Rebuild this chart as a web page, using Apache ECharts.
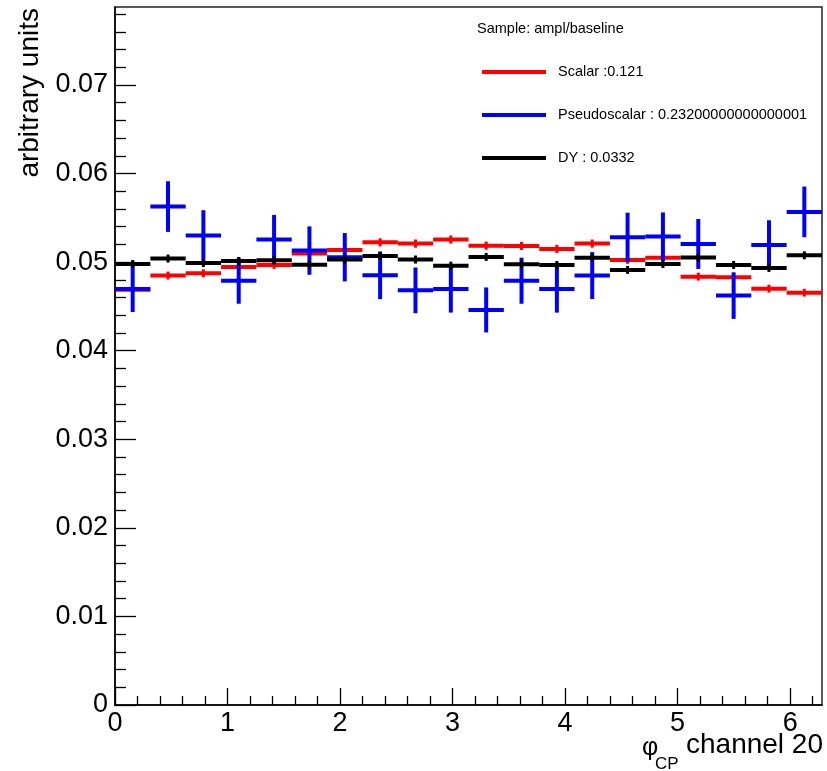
<!DOCTYPE html>
<html>
<head>
<meta charset="utf-8">
<script src="https://cdn.jsdelivr.net/npm/echarts@6/dist/echarts.min.js"></script>
<style>
html,body{margin:0;padding:0;background:#fff;}
#chart{width:827px;height:771px;}
</style>
</head>
<body>
<div id="chart"></div>
<script>
// ---- data ----
const X_MIN = 0;
const X_MAX = 2 * Math.PI;
const N_BINS = 20;
const Y_MAX = 0.0788;

const xMajorTicks = [0, 1, 2, 3, 4, 5, 6];
const xMinorTicks = [0.2,0.4,0.6,0.8,1.2,1.4,1.6,1.8,2.2,2.4,2.6,2.8,3.2,3.4,3.6,3.8,4.2,4.4,4.6,4.8,5.2,5.4,5.6,5.8,6.2];
const yMajorTicks = [0, 0.01, 0.02, 0.03, 0.04, 0.05, 0.06, 0.07];
const yMinorTicks = [0.002,0.004,0.006,0.008,0.012,0.014,0.016,0.018,0.022,0.024,0.026,0.028,0.032,0.034,0.036,0.038,0.042,0.044,0.046,0.048,0.052,0.054,0.056,0.058,0.062,0.064,0.066,0.068,0.072,0.074,0.076,0.078];

const scalarName = 'Scalar :0.121';
const pseudoName = 'Pseudoscalar : 0.23200000000000001';
const dyName = 'DY : 0.0332';
const sampleLabel = 'Sample: ampl/baseline';

const scalarValues = [0.04689,0.04848,0.04874,0.04946,0.04968,0.05096,0.05138,0.05223,0.05209,0.05255,0.05186,0.05183,0.05149,0.05209,0.05025,0.05048,0.04836,0.04828,0.04700,0.04655];
const scalarErrors = [0.00044,0.00045,0.00045,0.00045,0.00045,0.00046,0.00046,0.00046,0.00046,0.00046,0.00046,0.00046,0.00046,0.00046,0.00045,0.00045,0.00045,0.00045,0.00044,0.00044];

const pseudoValues = [0.04697,0.05627,0.05300,0.04790,0.05255,0.05130,0.05055,0.04851,0.04681,0.04697,0.04460,0.04790,0.04697,0.04848,0.05281,0.05288,0.05205,0.04622,0.05194,0.05567];
const pseudoErrors = [0.00260,0.00286,0.00286,0.00260,0.00278,0.00273,0.00273,0.00269,0.00258,0.00267,0.00254,0.00260,0.00267,0.00265,0.00277,0.00273,0.00282,0.00263,0.00278,0.00286];

const dyValues = [0.04979,0.05040,0.04990,0.05013,0.05020,0.04971,0.05029,0.05070,0.05029,0.04960,0.05059,0.04975,0.04968,0.05048,0.04912,0.04979,0.05051,0.04968,0.04934,0.05077];
const dyErrors = [0.00045,0.00045,0.00045,0.00045,0.00045,0.00045,0.00045,0.00045,0.00045,0.00045,0.00045,0.00045,0.00045,0.00045,0.00045,0.00045,0.00045,0.00045,0.00045,0.00045];

// ---- build ----
const FONT = "'Liberation Sans', Arial, Helvetica, sans-serif";
const binWidth = (X_MAX - X_MIN) / N_BINS;

function histData(values, errors) {
  return values.map((v, i) => [X_MIN + i * binWidth, X_MIN + (i + 1) * binWidth, v, errors[i]]);
}

function makeRender(color, lw, elw) {
  return function (params, api) {
    const lo = api.value(0), hi = api.value(1), v = api.value(2), e = api.value(3);
    const p1 = api.coord([lo, v]);
    const p2 = api.coord([hi, v]);
    const c = (lo + hi) / 2;
    const t = api.coord([c, v + e]);
    const b = api.coord([c, v - e]);
    return {
      type: 'group',
      children: [
        { type: 'line', shape: { x1: p1[0], y1: p1[1], x2: p2[0], y2: p2[1] }, style: { stroke: color, lineWidth: lw } },
        { type: 'line', shape: { x1: t[0], y1: t[1], x2: b[0], y2: b[1] }, style: { stroke: color, lineWidth: elw } }
      ]
    };
  };
}

function histSeries(name, values, errors, color, lw, elw) {
  return {
    name: name,
    type: 'custom',
    xAxisIndex: 0,
    yAxisIndex: 0,
    renderItem: makeRender(color, lw, elw),
    itemStyle: { color: color },
    encode: { x: [0, 1], y: [2, 3] },
    data: histData(values, errors),
    animation: false
  };
}

const chart = echarts.init(document.getElementById('chart'), null, { renderer: 'canvas' });

const axisLineStyle = { color: '#000', width: 1.5 };

const option = {
  backgroundColor: '#fff',
  animation: false,
  grid: {
    left: 115, top: 7, right: 5, bottom: 66,
    show: true, borderColor: '#222', borderWidth: 1.5, backgroundColor: 'transparent'
  },
  xAxis: [
    {
      type: 'value', min: X_MIN, max: X_MAX, position: 'bottom',
      splitLine: { show: false },
      axisLine: { show: true, lineStyle: axisLineStyle },
      axisTick: { show: true, inside: true, length: 17, lineStyle: { color: '#000', width: 1.3 }, customValues: xMajorTicks },
      axisLabel: { show: true, customValues: xMajorTicks, margin: 5, fontSize: 27, fontFamily: FONT, color: '#000' }
    },
    {
      type: 'value', min: X_MIN, max: X_MAX, position: 'bottom', offset: 0,
      splitLine: { show: false },
      axisLine: { show: false },
      axisTick: { show: true, inside: true, length: 9, lineStyle: { color: '#000', width: 1.3 }, customValues: xMinorTicks },
      axisLabel: { show: false }
    }
  ],
  yAxis: [
    {
      type: 'value', min: 0, max: Y_MAX, position: 'left',
      splitLine: { show: false },
      axisLine: { show: true, lineStyle: axisLineStyle },
      axisTick: { show: true, inside: true, length: 21, lineStyle: { color: '#000', width: 1.3 }, customValues: yMajorTicks },
      axisLabel: { show: true, customValues: yMajorTicks, margin: 7, fontSize: 27, fontFamily: FONT, color: '#000',
        formatter: function (v) { return String(v); } }
    },
    {
      type: 'value', min: 0, max: Y_MAX, position: 'left', offset: 0,
      splitLine: { show: false },
      axisLine: { show: false },
      axisTick: { show: true, inside: true, length: 11, lineStyle: { color: '#000', width: 1.3 }, customValues: yMinorTicks },
      axisLabel: { show: false }
    }
  ],
  legend: {
    left: 482, top: 64, orient: 'vertical', padding: 0,
    itemWidth: 64, itemHeight: 4, itemGap: 27,
    icon: 'rect', selectedMode: false,
    textStyle: { fontSize: 14.5, fontFamily: FONT, color: '#000', lineHeight: 16, padding: [0, 0, 0, 7] },
    data: [scalarName, pseudoName, dyName]
  },
  graphic: [
    { type: 'text', left: 477, top: 21, style: { text: sampleLabel, fontSize: 14.5, fontFamily: FONT, fill: '#000' } },
    { type: 'text', x: 30, y: 8, rotation: Math.PI / 2,
      style: { text: 'arbitrary units', fontSize: 28, fontFamily: FONT, fill: '#000', align: 'right', verticalAlign: 'middle' } },
    { type: 'text', x: 823, y: 745,
      style: { text: 'channel 20', fontSize: 28, fontFamily: FONT, fill: '#000', align: 'right', verticalAlign: 'middle' } },
    { type: 'text', x: 642, y: 748,
      style: { text: 'φ', fontSize: 25, fontFamily: FONT, fill: '#000', align: 'left', verticalAlign: 'middle' } },
    { type: 'text', x: 655, y: 764,
      style: { text: 'CP', fontSize: 17, fontFamily: FONT, fill: '#000', align: 'left', verticalAlign: 'middle' } }
  ],
  series: [
    histSeries(scalarName, scalarValues, scalarErrors, '#ff0000', 4, 3),
    histSeries(pseudoName, pseudoValues, pseudoErrors, '#0000ff', 4, 4),
    histSeries(dyName, dyValues, dyErrors, '#000000', 4, 3)
  ]
};

chart.setOption(option);
</script>
</body>
</html>
